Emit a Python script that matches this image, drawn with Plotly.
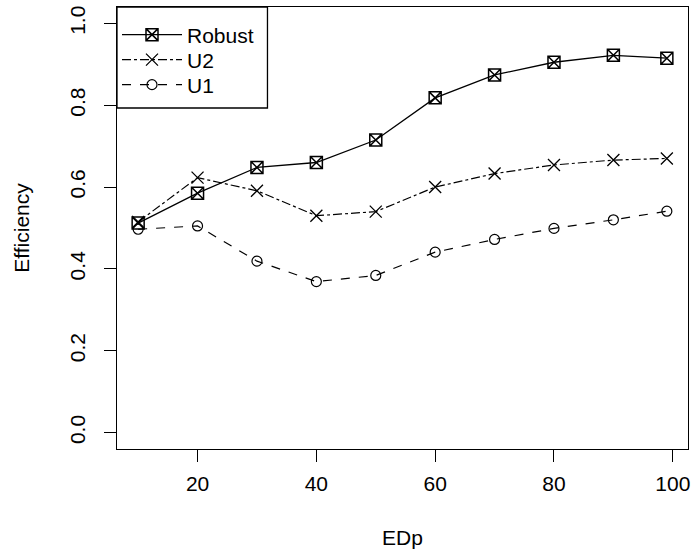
import plotly.graph_objects as go

edp = [10, 20, 30, 40, 50, 60, 70, 80, 90, 99]
robust = [0.512, 0.585, 0.648, 0.660, 0.715, 0.818, 0.874, 0.905, 0.922, 0.915]
u2 = [0.515, 0.623, 0.591, 0.530, 0.540, 0.600, 0.633, 0.654, 0.666, 0.670]
u1 = [0.497, 0.505, 0.419, 0.369, 0.384, 0.441, 0.472, 0.499, 0.520, 0.541]
y_ticks = [0.0, 0.2, 0.4, 0.6, 0.8, 1.0]
x_ticks = [20, 40, 60, 80, 100]

FONT = "Liberation Sans, Arial, sans-serif"

fig = go.Figure()
fig.add_trace(go.Scatter(
    x=edp, y=robust, name="Robust", mode="lines+markers", legend="legend",
    line=dict(color="black", width=1.3, dash="solid"),
    marker=dict(symbol="square-x-open", size=12, color="black", line=dict(width=1.5, color="black")),
))
fig.add_trace(go.Scatter(
    x=edp, y=u2, name="U2", mode="lines+markers", legend="legend2",
    line=dict(color="black", width=1.2, dash="dashdot"),
    marker=dict(symbol="x-thin-open", size=12, color="black", line=dict(width=1.3, color="black")),
))
fig.add_trace(go.Scatter(
    x=edp, y=u1, name="U1", mode="lines+markers", legend="legend3",
    line=dict(color="black", width=1.2, dash="dash"),
    marker=dict(symbol="circle-open", size=10, color="black", line=dict(width=1.2, color="black")),
))

# plot area: top 7px, height 442px; legend rows centred at 35, 60, 85 px
def row_y(px):
    return (449 - px) / 442

legend_common = dict(
    x=0, xanchor="left", yanchor="middle",
    bgcolor="rgba(0,0,0,0)", borderwidth=0,
    font=dict(size=21, color="black"), itemwidth=60,
)

fig.update_layout(
    width=692, height=554,
    margin=dict(l=117, r=2, t=7, b=105),
    paper_bgcolor="white", plot_bgcolor="white",
    font=dict(family=FONT, size=21, color="black"),
    showlegend=True,
    legend=dict(y=row_y(35), **legend_common),
    legend2=dict(y=row_y(60), **legend_common),
    legend3=dict(y=row_y(85), **legend_common),
    shapes=[dict(
        type="rect", xref="paper", yref="paper",
        x0=0, x1=(268 - 117) / 573, y0=row_y(108), y1=1,
        line=dict(color="black", width=1.3), fillcolor="white", layer="below",
    )],
    xaxis=dict(
        range=[6.44, 102.56], tickvals=x_ticks, ticks="outside", ticklen=12,
        tickwidth=1.2, tickcolor="black", showline=True, linecolor="black",
        linewidth=1.3, mirror=True, showgrid=False, zeroline=False,
        tickfont=dict(size=21), ticklabelstandoff=4, ticklabeloverflow="allow",
        title=dict(text="EDp", font=dict(size=21), standoff=35),
    ),
    yaxis=dict(
        range=[-0.04, 1.04], tickvals=y_ticks, tickformat=".1f", ticks="outside",
        ticklen=12, tickwidth=1.2, tickcolor="black", showline=True,
        linecolor="black", linewidth=1.3, mirror=True, showgrid=False,
        zeroline=False, tickangle=-90, tickfont=dict(size=21),
        ticklabelstandoff=10,
        title=dict(text="Efficiency", font=dict(size=21), standoff=31),
    ),
)

fig.write_html("out.html")
